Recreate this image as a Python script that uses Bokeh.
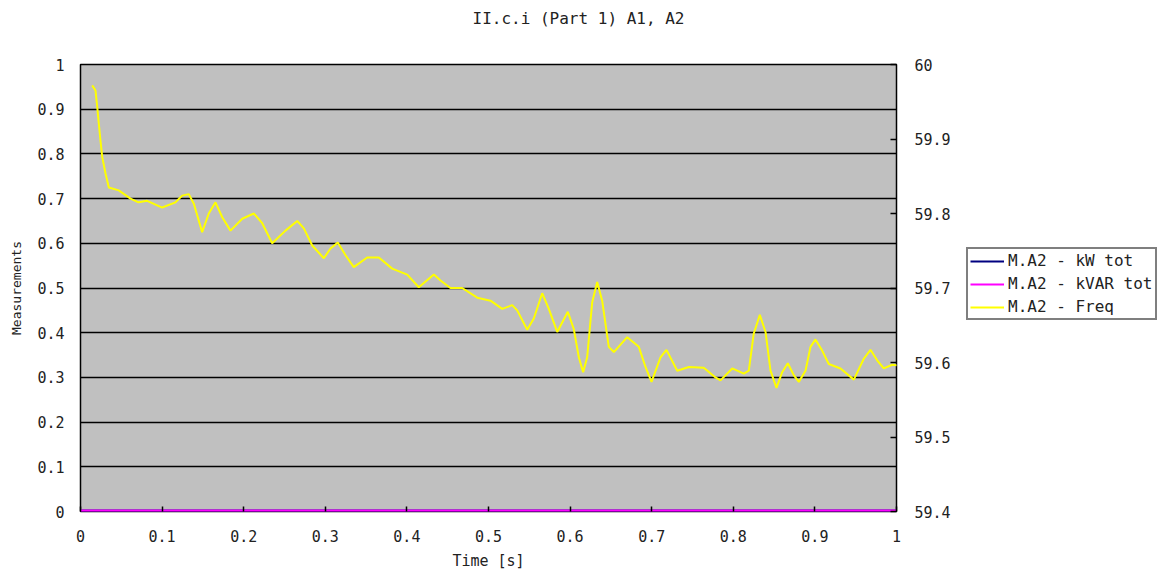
from bokeh.plotting import figure
from bokeh.layouts import row, column
from bokeh.models import (Range1d, LinearAxis, Legend, LegendItem, Label,
                          SingleIntervalTicker, CustomJSTickFormatter)
from bokeh.embed import file_html
from bokeh.resources import INLINE

# ---- data ----
title_text = "II.c.i (Part 1) A1, A2"
series_names = ["M.A2 - kW tot", "M.A2 - kVAR tot", "M.A2 - Freq"]
series_colors = ["#000080", "#FF00FF", "#FFFF00"]

time_s = [0.0143, 0.0184, 0.0205, 0.0224, 0.0245, 0.0266, 0.0306, 0.0347, 0.0469, 0.0613,
          0.0711, 0.0817, 0.1001, 0.1164, 0.1246, 0.1327, 0.1389, 0.1491, 0.1572, 0.1654,
          0.1737, 0.1838, 0.1982, 0.2124, 0.2227, 0.2349, 0.2512, 0.2656, 0.2737, 0.2840,
          0.2982, 0.3064, 0.3153, 0.3248, 0.3349, 0.3513, 0.3656, 0.3820, 0.4004, 0.4146,
          0.4330, 0.4412, 0.4534, 0.4678, 0.4862, 0.5025, 0.5168, 0.5291, 0.5352, 0.5474,
          0.5555, 0.5658, 0.5739, 0.5842, 0.5972, 0.6045, 0.6107, 0.6160, 0.6209, 0.6271,
          0.6332, 0.6393, 0.6474, 0.6536, 0.6700, 0.6842, 0.6924, 0.6998, 0.7108, 0.7181,
          0.7313, 0.7455, 0.7638, 0.7782, 0.7843, 0.7987, 0.8129, 0.8190, 0.8251, 0.8325,
          0.8395, 0.8456, 0.8529, 0.8599, 0.8668, 0.8741, 0.8803, 0.8885, 0.8946, 0.9007,
          0.9089, 0.9170, 0.9314, 0.9477, 0.9599, 0.9681, 0.9763, 0.9844, 0.9947, 1.0025]

freq_hz = [59.972, 59.965, 59.943, 59.921, 59.898, 59.876, 59.854, 59.835, 59.831, 59.820,
           59.815, 59.817, 59.808, 59.815, 59.824, 59.826, 59.813, 59.775, 59.800, 59.815,
           59.795, 59.777, 59.793, 59.800, 59.787, 59.760, 59.777, 59.790, 59.780, 59.757,
           59.740, 59.753, 59.761, 59.744, 59.728, 59.741, 59.741, 59.726, 59.718, 59.701,
           59.718, 59.710, 59.700, 59.700, 59.687, 59.683, 59.672, 59.677, 59.670, 59.644,
           59.659, 59.693, 59.672, 59.641, 59.668, 59.645, 59.607, 59.587, 59.607, 59.681,
           59.708, 59.683, 59.621, 59.614, 59.634, 59.621, 59.594, 59.574, 59.607, 59.617,
           59.589, 59.594, 59.593, 59.580, 59.576, 59.592, 59.585, 59.589, 59.639, 59.664,
           59.641, 59.589, 59.566, 59.587, 59.599, 59.583, 59.574, 59.589, 59.621, 59.631,
           59.616, 59.598, 59.592, 59.577, 59.605, 59.617, 59.603, 59.592, 59.597, 59.596]

power_time = [0.0, 1.0]
kw_tot = [0.0, 0.0]
kvar_tot = [0.0, 0.0]

FONT = "DejaVu Sans Mono"
TXT = "#222222"
TOP_H = 40


def blank(fig):
    fig.xaxis.visible = False
    fig.yaxis.visible = False
    fig.xgrid.visible = False
    fig.ygrid.visible = False
    fig.outline_line_color = None
    fig.background_fill_color = "white"
    fig.border_fill_color = "white"


# ---- title strip ----
t = figure(width=1161, height=TOP_H, output_backend="svg", toolbar_location=None,
           x_range=Range1d(0, 1), y_range=Range1d(0, 1),
           min_border_left=80, min_border_right=265, min_border_top=0, min_border_bottom=0)
blank(t)
t.add_layout(Label(x=498, y=TOP_H - 18, x_units="screen", y_units="screen", text=title_text,
                   text_align="center", text_baseline="middle",
                   text_font=FONT, text_font_size="16px", text_color=TXT))

# ---- main plot ----
p = figure(width=954, height=572 - TOP_H, output_backend="svg", toolbar_location=None,
           x_range=Range1d(0, 1), y_range=Range1d(0, 1),
           min_border_left=80, min_border_right=58, min_border_top=64 - TOP_H,
           min_border_bottom=61)
p.extra_y_ranges = {"freq": Range1d(59.4, 60.0)}

p.background_fill_color = "#C0C0C0"
p.border_fill_color = "white"
p.outline_line_color = "black"
p.outline_line_width = 1.5

p.xgrid.visible = False
p.ygrid.grid_line_color = "black"
p.ygrid.grid_line_width = 1.5
p.ygrid.ticker = SingleIntervalTicker(interval=0.1)

fmt1 = CustomJSTickFormatter(code="return Number(tick.toFixed(1)).toString();")

for ax in [p.xaxis[0], p.yaxis[0]]:
    ax.ticker = SingleIntervalTicker(interval=0.1)
    ax.formatter = fmt1
    ax.minor_tick_line_color = None
    ax.major_tick_out = 0
    ax.major_tick_in = 5
    ax.major_tick_line_color = "black"
    ax.major_tick_line_width = 1.5
    ax.axis_line_color = None
    ax.major_label_text_font = FONT
    ax.major_label_text_font_size = "15px"
    ax.major_label_text_color = TXT
    ax.axis_label_text_font = FONT
    ax.axis_label_text_font_size = "15px"
    ax.axis_label_text_font_style = "normal"
    ax.axis_label_text_color = TXT

p.xaxis[0].axis_label = "Time [s]"
p.xaxis[0].major_label_standoff = 14
p.xaxis[0].axis_label_standoff = 7
p.yaxis[0].axis_label = "Measurements"
p.yaxis[0].axis_label_text_font_size = "13px"
p.yaxis[0].major_label_standoff = 12
p.yaxis[0].axis_label_standoff = 10
p.yaxis[0].major_tick_in = 0

ry = LinearAxis(y_range_name="freq", ticker=SingleIntervalTicker(interval=0.1), formatter=fmt1)
ry.minor_tick_line_color = None
ry.major_tick_out = 0
ry.major_tick_in = 6
ry.major_tick_line_color = "black"
ry.major_tick_line_width = 1.5
ry.axis_line_color = None
ry.major_label_standoff = 14
ry.major_label_text_font = FONT
ry.major_label_text_font_size = "15px"
ry.major_label_text_color = TXT
p.add_layout(ry, "right")

p.line(power_time, kw_tot, line_color=series_colors[0], line_width=4)
p.line(power_time, kvar_tot, line_color=series_colors[1], line_width=4)
p.line(time_s, freq_hz, line_color=series_colors[2], line_width=2, y_range_name="freq")

# ---- legend panel ----
q = figure(width=1161 - 954, height=572 - TOP_H, output_backend="svg", toolbar_location=None,
           x_range=Range1d(0, 1), y_range=Range1d(0, 1),
           min_border_left=0, min_border_right=0, min_border_top=64 - TOP_H,
           min_border_bottom=61)
blank(q)

# legend swatches: drawn outside the visible range so only the legend shows them
leg_renderers = [q.line([2, 3], [2, 3], line_color=c, line_width=2) for c in series_colors]
legend = Legend(items=[LegendItem(label=n, renderers=[r]) for n, r in zip(series_names, leg_renderers)],
                location=(12, 191))
legend.label_text_font = FONT
legend.label_text_font_size = "16px"
legend.label_text_color = TXT
legend.border_line_color = "black"
legend.border_line_width = 2
legend.background_fill_color = "white"
legend.background_fill_alpha = 1
legend.glyph_width = 34
legend.glyph_height = 16
legend.label_height = 16
legend.spacing = 4
legend.padding = 2
legend.margin = 0
legend.label_standoff = 4
q.add_layout(legend, "center")

layout = column(t, row(p, q))
open("out.html", "w").write(file_html(layout, INLINE))
